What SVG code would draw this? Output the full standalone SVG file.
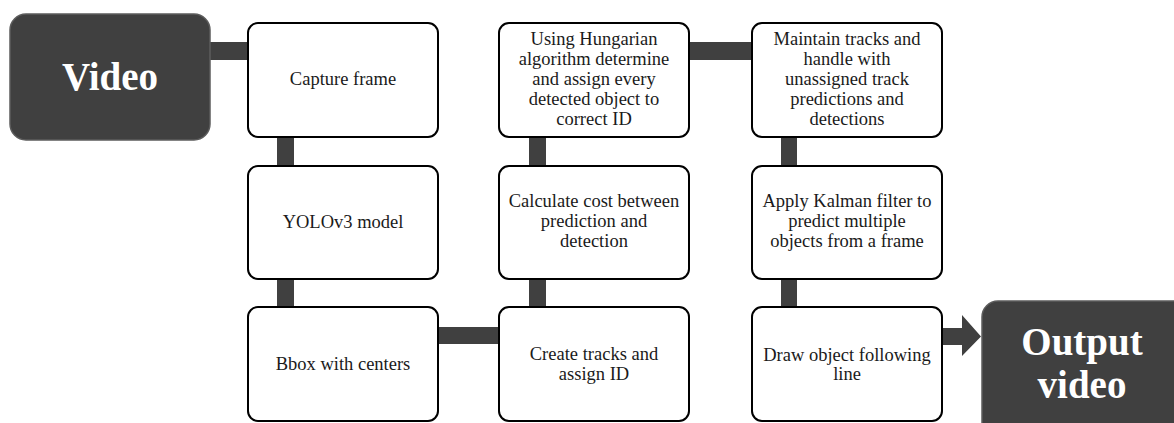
<svg xmlns="http://www.w3.org/2000/svg" width="1174" height="423" viewBox="0 0 1174 423">
<style>
.box{fill:#fff;stroke:#000;stroke-width:2}
.dark{fill:#404040;stroke:#5c5c5c;stroke-width:1.5}
.conn{fill:#404040}
.t{font-family:"Liberation Serif","Times New Roman",serif;font-size:18.5px;fill:#1a1a1a;text-anchor:middle}
.big{font-family:"Liberation Serif","Times New Roman",serif;font-size:39px;font-weight:bold;fill:#fff;text-anchor:middle}
</style>
<rect width="1174" height="423" fill="#fff"/>
<g id="connectors">
<rect class="conn" x="209" y="42" width="40" height="18"/>
<rect class="conn" x="277" y="136" width="17" height="31"/>
<rect class="conn" x="277" y="278" width="17" height="30"/>
<rect class="conn" x="437" y="327" width="63" height="17"/>
<rect class="conn" x="529" y="278" width="17" height="30"/>
<rect class="conn" x="529" y="136" width="17" height="31"/>
<rect class="conn" x="688" y="42" width="64" height="18"/>
<rect class="conn" x="781" y="136" width="16" height="31"/>
<rect class="conn" x="781" y="278" width="16" height="30"/>
<path class="conn" d="M941 328 H962 V315 L981 336.5 L962 356 V345 H941 Z"/>
</g>
<g id="video">
<rect class="dark" x="10" y="14" width="200" height="126" rx="16"/>
<text class="big" x="110" y="90">Video</text>
</g>
<g id="capture">
<rect class="box" x="248" y="23" width="190" height="114" rx="10"/>
<text class="t" x="343" y="85">Capture frame</text>
</g>
<g id="yolo">
<rect class="box" x="248" y="166" width="190" height="113" rx="10"/>
<text class="t" x="343" y="228">YOLOv3 model</text>
</g>
<g id="bbox">
<rect class="box" x="248" y="307" width="190" height="114" rx="10"/>
<text class="t" x="343" y="370">Bbox with centers</text>
</g>
<g id="create">
<rect class="box" x="499" y="307" width="190" height="114" rx="10"/>
<text class="t" x="594" y="360">Create tracks and</text>
<text class="t" x="594" y="380">assign ID</text>
</g>
<g id="cost">
<rect class="box" x="499" y="166" width="190" height="113" rx="10"/>
<text class="t" x="594" y="207">Calculate cost between</text>
<text class="t" x="594" y="227">prediction and</text>
<text class="t" x="594" y="247">detection</text>
</g>
<g id="hungarian">
<rect class="box" x="499" y="23" width="190" height="114" rx="10"/>
<text class="t" x="594" y="45">Using Hungarian</text>
<text class="t" x="594" y="65">algorithm determine</text>
<text class="t" x="594" y="85">and assign every</text>
<text class="t" x="594" y="105">detected object to</text>
<text class="t" x="594" y="125">correct ID</text>
</g>
<g id="maintain">
<rect class="box" x="752" y="23" width="190" height="114" rx="10"/>
<text class="t" x="847" y="45">Maintain tracks and</text>
<text class="t" x="847" y="65">handle with</text>
<text class="t" x="847" y="85">unassigned track</text>
<text class="t" x="847" y="105">predictions and</text>
<text class="t" x="847" y="125">detections</text>
</g>
<g id="kalman">
<rect class="box" x="752" y="166" width="190" height="113" rx="10"/>
<text class="t" x="847" y="207">Apply Kalman filter to</text>
<text class="t" x="847" y="227">predict multiple</text>
<text class="t" x="847" y="247">objects from a frame</text>
</g>
<g id="draw">
<rect class="box" x="752" y="307" width="190" height="114" rx="10"/>
<text class="t" x="847" y="361">Draw object following</text>
<text class="t" x="847" y="380">line</text>
</g>
<g id="output">
<rect class="dark" x="982" y="301" width="210" height="140" rx="16"/>
<text class="big" x="1082" y="355">Output</text>
<text class="big" x="1082" y="398">video</text>
</g>
</svg>
